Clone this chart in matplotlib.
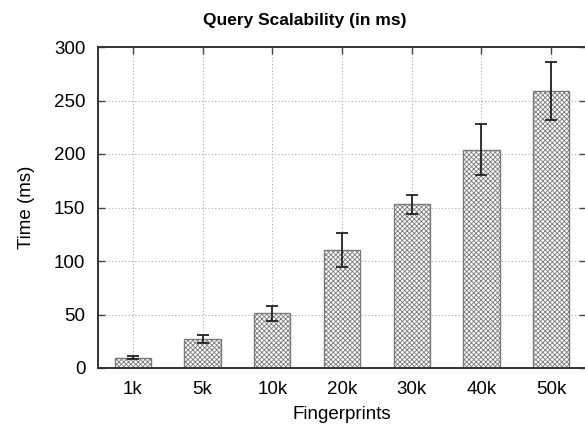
import matplotlib
matplotlib.use("Agg")
import matplotlib.pyplot as plt

plt.rcParams['font.family'] = ['Liberation Sans', 'DejaVu Sans']
plt.rcParams['hatch.linewidth'] = 0.6
plt.rcParams['hatch.color'] = '#7a7a7a'

kategorie = ["1k", "5k", "10k", "20k", "30k", "40k", "50k"]
czasy = [9.5, 27, 51, 110, 153, 204, 259]
bledy = [1.5, 3.5, 7, 16, 9, 24, 27]

fig = plt.figure(figsize=(5.85, 4.3), dpi=100)
ax = fig.add_axes([98 / 585, 1 - 368 / 430, 488 / 585, 321 / 430])

x = range(len(kategorie))
ax.bar(x, czasy, width=0.52, color='white', edgecolor='#7a7a7a', linewidth=1.0,
       hatch='xxxxxxx', zorder=2)
ax.errorbar(x, czasy, yerr=bledy, fmt='none', ecolor='#222222', elinewidth=1.3,
            capsize=4, capthick=1.3, zorder=3)

ax.set_xlim(-0.5, len(kategorie) - 0.5)
ax.set_ylim(0, 300)
ax.set_yticks(range(0, 301, 50))
ax.set_xticks(list(x))
ax.set_xticklabels(kategorie)
ax.grid(True, linestyle=(0, (1, 2)), color='#aaaaaa', linewidth=0.8, zorder=0)
ax.set_axisbelow(True)
ax.tick_params(direction='in', top=True, right=True, length=5, width=1,
               labelsize=13.5, color='#444444')
ax.tick_params(axis='x', pad=9)
ax.tick_params(axis='y', pad=9)
for s in ax.spines.values():
    s.set_linewidth(1.4)
    s.set_color('#333333')

ax.set_xlabel("Fingerprints", fontsize=13.5, labelpad=6)
ax.set_ylabel("Time (ms)", fontsize=13.5, labelpad=14)
fig.text(305 / 585, 1 - 20 / 430, "Query Scalability (in ms)", ha='center', va='center',
         fontsize=12.5, fontweight='bold')

fig.savefig("out.png", dpi=100)
